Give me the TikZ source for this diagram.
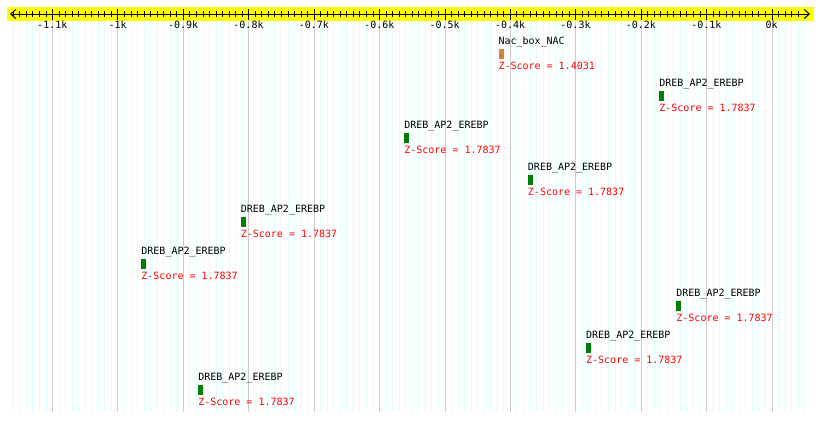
\documentclass[tikz,border=0pt]{standalone}
\usepackage{fontspec}
\setmonofont{DejaVu Sans Mono}
\usetikzlibrary{arrows.meta,positioning}
\definecolor{barfill}{RGB}{255,255,0}
\definecolor{gridminor}{RGB}{221,255,255}
\definecolor{gridmajor}{RGB}{204,204,204}
\definecolor{nacbox}{RGB}{205,133,63}
\definecolor{drebbox}{RGB}{0,128,0}
\def\mono{\ttfamily\fontsize{10}{10}\selectfont}

\begin{document}
\begin{tikzpicture}[x=1pt,y=-1pt,
    tag/.style={font=\mono,inner sep=0pt,anchor=base west},
    score/.style={tag,text=red},
    sitebox/.style={inner sep=0pt,minimum width=5pt,minimum height=10pt,anchor=north west}]
    \useasboundingbox (0,0) rectangle (820,421);
    % ruler
    \fill[barfill] (7,7) rectangle (814,20.5);
    \foreach \u [evaluate=\u as \px using 771.7+0.654*\u] in {-1160,-1150,...,50}
      \draw[gridminor] (\px,21) -- (\px,411.5);
    \foreach \u [evaluate=\u as \px using 771.7+0.654*\u] in {-1100,-1000,...,0}
      \draw[gridmajor] (\px,21) -- (\px,411.5);
    \coordinate (lend) at (10,14);
    \coordinate (rend) at (810,14);
    \draw[line width=1pt,{Straight Barb[length=5pt,width=9pt]}-{Straight Barb[length=5pt,width=9pt]}] (lend) -- (rend);
    \foreach \u [evaluate=\u as \px using 771.7+0.654*\u] in {-1160,-1150,...,40}
      \draw (\px,11) -- (\px,17);
    \foreach \l [count = \i, evaluate=\i as \px using 771.7+0.654*(\i-12)*100] in
        {-1.1k,-1k,-0.9k,-0.8k,-0.7k,-0.6k,-0.5k,-0.4k,-0.3k,-0.2k,-0.1k,0k}{
      \draw (\px,9) -- (\px,19.5);
      \node[font=\mono,inner sep=0pt,anchor=base] (tick\i) at (\px,28.5) {\l};
    }
    % sites: \site(position,row top){name}{colour}{score}{node}
    \def\site(#1,#2)#3#4#5#6{
      \begin{scope}[shift={({771.7+0.654*(#1)},#2)}]
        \node[sitebox,fill=#4] (#6) at (0,0) {};
        \node[tag] (#6-name) at (0,-5) {#3};
        \node[score] (#6-score) at (0,20) {Z-Score = #5};
      \end{scope}
      }

  \site(-418,49){Nac\_box\_NAC}{nacbox}{1.4031}{s1}
  \site(-172,91){DREB\_AP2\_EREBP}{drebbox}{1.7837}{s2}
  \site(-562,133){DREB\_AP2\_EREBP}{drebbox}{1.7837}{s3}
  \site(-373,175){DREB\_AP2\_EREBP}{drebbox}{1.7837}{s4}
  \site(-812,217){DREB\_AP2\_EREBP}{drebbox}{1.7837}{s5}
  \site(-964,259){DREB\_AP2\_EREBP}{drebbox}{1.7837}{s6}
  \site(-146,301){DREB\_AP2\_EREBP}{drebbox}{1.7837}{s7}
  \site(-284,343){DREB\_AP2\_EREBP}{drebbox}{1.7837}{s8}
  \site(-877,385){DREB\_AP2\_EREBP}{drebbox}{1.7837}{s9}
\end{tikzpicture}
\end{document}
